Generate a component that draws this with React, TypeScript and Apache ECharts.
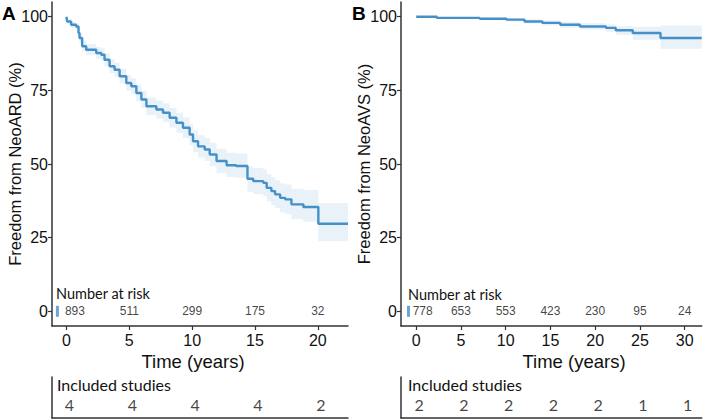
import React, { useEffect, useRef } from "react";
import * as echarts from "echarts";

// Panel A: freedom from NeoARD
const timesA = [0, 0.05, 0.37, 0.77, 0.96, 1.04, 1.25, 1.57, 2.37, 2.77, 3.03, 3.43, 3.83, 4.23, 4.76, 5.16, 5.56, 5.96, 6.36, 7.15, 7.68, 8.21, 8.75, 9.27, 9.8, 10.07, 10.47, 11.0, 11.4, 11.94, 12.74, 13.5, 14.4, 14.86, 15.66, 15.93, 16.3, 16.6, 17.0, 17.4, 17.9, 18.85, 20.04, 22.4];
const survA = [100, 98.4, 97.3, 96.7, 94.5, 92.8, 90, 88.8, 87.7, 87.1, 85.4, 83.2, 82, 79.8, 77.5, 76.4, 74.1, 71.9, 69.6, 68.5, 67.4, 65.7, 64, 62.3, 60, 57.7, 56, 54.9, 53.2, 51, 49.6, 49.3, 45, 44.2, 43.6, 41.9, 40.8, 39.7, 38.5, 38, 36.3, 35.4, 29.7, 29.7];
const lowA = [100, 97.6, 96.3, 95.5, 93.1, 91.2, 88.2, 86.9, 85.7, 85.0, 83.2, 80.9, 79.6, 77.3, 74.9, 73.7, 71.3, 69.0, 66.6, 65.4, 64.2, 62.4, 60.6, 58.8, 56.4, 54.0, 52.2, 51.0, 49.2, 46.9, 45.6, 45.3, 40.6, 39.8, 39.1, 37.3, 36.1, 35.0, 33.6, 33.0, 31.2, 30.4, 23.8, 23.8];
const highA = [100, 99.2, 98.3, 97.9, 95.9, 94.4, 91.8, 90.7, 89.7, 89.2, 87.6, 85.5, 84.4, 82.3, 80.1, 79.1, 76.9, 74.8, 72.6, 71.6, 70.6, 69.0, 67.4, 65.8, 63.6, 61.4, 59.8, 58.8, 57.2, 55.1, 53.8, 53.6, 49.2, 48.6, 48.1, 46.5, 45.5, 44.5, 43.4, 43.0, 41.6, 41.2, 36.8, 36.8];
const riskTimesA = [0, 5, 10, 15, 20];
const riskA = [893, 511, 299, 175, 32];
const studiesA = [4, 4, 4, 4, 2];

// Panel B: freedom from NeoAVS
const timesB = [0, 2.3, 7.1, 10.1, 12.1, 14.1, 16.1, 18.3, 21.2, 22.3, 24.2, 27.3, 31.9];
const survB = [100, 99.6, 99.3, 99.0, 98.4, 97.9, 97.3, 96.7, 96.2, 95.4, 94.5, 92.8, 92.8];
const lowB = [100, 99.3, 98.8, 98.4, 97.7, 97.0, 96.3, 95.7, 94.9, 93.9, 92.2, 89.1, 89.1];
const highB = [100, 99.9, 99.7, 99.5, 99.1, 98.7, 98.2, 97.8, 97.4, 96.8, 96.6, 97.0, 97.0];
const riskTimesB = [0, 5, 10, 15, 20, 25, 30];
const riskB = [778, 653, 553, 423, 230, 95, 24];
const studiesB = [2, 2, 2, 2, 2, 1, 1];

const yTicks = [0, 25, 50, 75, 100];
const xTicksA = [0, 5, 10, 15, 20];
const xTicksB = [0, 5, 10, 15, 20, 25, 30];

const LINE = "#4690c8";
const BAND = "#e9f1f9";
const AXIS = "#333333";
const SANS = "Liberation Sans";
const LATO = "Lato";

function bandSeries(t: number[], lo: number[], hi: number[], idx: number) {
  return {
    type: "custom",
    xAxisIndex: idx,
    yAxisIndex: idx,
    z: 1,
    silent: true,
    data: t.map((x, i) => [x, lo[i], hi[i]]),
    encode: { x: 0, y: [1, 2] },
    renderItem: (params: any, api: any) => {
      if (params.dataIndex !== 0) return null;
      const pts: number[][] = [];
      const n = t.length;
      for (let i = 0; i < n; i++) {
        const nx = i < n - 1 ? t[i + 1] : t[i];
        pts.push(api.coord([t[i], hi[i]]));
        pts.push(api.coord([nx, hi[i]]));
      }
      for (let i = n - 1; i >= 0; i--) {
        const nx = i < n - 1 ? t[i + 1] : t[i];
        pts.push(api.coord([nx, lo[i]]));
        pts.push(api.coord([t[i], lo[i]]));
      }
      return { type: "polygon", shape: { points: pts }, style: { fill: BAND } };
    },
  };
}

function mainX(idx: number, min: number, max: number, ticks: number[]) {
  return {
    gridIndex: idx,
    type: "value",
    min,
    max,
    axisLine: { show: true, onZero: false, lineStyle: { color: AXIS, width: 1.5 } },
    axisTick: { show: true, customValues: ticks, length: 4, lineStyle: { color: AXIS, width: 1.2 } },
    axisLabel: { show: true, customValues: ticks, color: "#111", fontSize: 16, fontFamily: SANS, margin: 6 },
    splitLine: { show: false },
  };
}

function mainY(idx: number) {
  return {
    gridIndex: idx,
    type: "value",
    min: -5,
    max: 105,
    axisLine: { show: true, onZero: false, lineStyle: { color: AXIS, width: 1.5 } },
    axisTick: { show: true, customValues: yTicks, length: 4, lineStyle: { color: AXIS, width: 1.2 } },
    axisLabel: { show: true, customValues: yTicks, color: "#111", fontSize: 16, fontFamily: SANS, margin: 4 },
    splitLine: { show: false },
  };
}

function tableX(idx: number, min: number, max: number) {
  return {
    gridIndex: idx,
    type: "value",
    min,
    max,
    axisLine: { show: true, onZero: false, lineStyle: { color: AXIS, width: 1.5 } },
    axisTick: { show: false },
    axisLabel: { show: false },
    splitLine: { show: false },
  };
}

function tableY(idx: number) {
  return {
    gridIndex: idx,
    type: "value",
    min: 0,
    max: 1,
    axisLine: { show: true, onZero: false, lineStyle: { color: AXIS, width: 1.5 } },
    axisTick: { show: false },
    axisLabel: { show: false },
    splitLine: { show: false },
  };
}

function riskSeries(times: number[], vals: number[], idx: number, firstOffset: number) {
  return {
    type: "scatter",
    xAxisIndex: idx,
    yAxisIndex: idx,
    symbolSize: 1,
    itemStyle: { color: "rgba(0,0,0,0)" },
    silent: true,
    z: 5,
    label: {
      show: true,
      position: "inside",
      formatter: (p: any) => String(p.value[2]),
      color: "#111",
      fontSize: 12,
      fontFamily: SANS,
    },
    data: times.map((t, i) => ({
      value: [t, 0, vals[i]],
      label: i === 0 ? { offset: [firstOffset, 0] } : undefined,
    })),
  };
}

function studySeries(times: number[], vals: number[], idx: number) {
  return {
    type: "scatter",
    xAxisIndex: idx,
    yAxisIndex: idx,
    symbolSize: 1,
    itemStyle: { color: "rgba(0,0,0,0)" },
    silent: true,
    label: {
      show: true,
      position: "inside",
      offset: [3, 0],
      formatter: (p: any) => String(p.value[2]),
      color: "#111",
      fontSize: 16,
      fontFamily: LATO,
    },
    data: times.map((t, i) => [t, 0.32, vals[i]]),
  };
}

function markerSeries(x: number, idx: number) {
  return {
    type: "scatter",
    xAxisIndex: idx,
    yAxisIndex: idx,
    symbol: "rect",
    symbolSize: [3, 11],
    itemStyle: { color: LINE },
    silent: true,
    data: [[x, 0]],
  };
}

export default function App() {
  const ref = useRef<HTMLDivElement>(null);
  useEffect(() => {
    if (!ref.current) return;
    const chart = echarts.init(ref.current, undefined, { renderer: "svg" });
    const option: any = {
      animation: false,
      backgroundColor: "#ffffff",
      textStyle: { fontFamily: SANS },
      grid: [
        { left: 52, top: 2, width: 296, height: 324 },
        { left: 401, top: 2, width: 300.7, height: 324 },
        { left: 52, top: 377, width: 296, height: 41 },
        { left: 401, top: 377, width: 300.7, height: 41 },
      ],
      xAxis: [
        mainX(0, -1.15, 22.4, xTicksA),
        mainX(1, -1.7, 31.9, xTicksB),
        tableX(2, -1.15, 22.4),
        tableX(3, -1.7, 31.9),
      ],
      yAxis: [mainY(0), mainY(1), tableY(2), tableY(3)],
      series: [
        bandSeries(timesA, lowA, highA, 0),
        {
          type: "line",
          xAxisIndex: 0,
          yAxisIndex: 0,
          step: "end",
          showSymbol: false,
          z: 3,
          lineStyle: { color: LINE, width: 2.4 },
          itemStyle: { color: LINE },
          data: timesA.map((t, i) => [t, survA[i]]),
        },
        bandSeries(timesB, lowB, highB, 1),
        {
          type: "line",
          xAxisIndex: 1,
          yAxisIndex: 1,
          step: "end",
          showSymbol: false,
          z: 3,
          lineStyle: { color: LINE, width: 2.4 },
          itemStyle: { color: LINE },
          data: timesB.map((t, i) => [t, survB[i]]),
        },
        riskSeries(riskTimesA, riskA, 0, 8.5),
        riskSeries(riskTimesB, riskB, 1, 6.5),
        markerSeries(-0.72, 0),
        markerSeries(-0.86, 1),
        studySeries(riskTimesA, studiesA, 2),
        studySeries(riskTimesB, studiesB, 3),
      ],
      graphic: [
        { type: "text", left: 2, top: 4, style: { text: "A", fontFamily: SANS, fontWeight: "bold", fontSize: 19, fill: "#000" } },
        { type: "text", left: 352, top: 4, style: { text: "B", fontFamily: SANS, fontWeight: "bold", fontSize: 19, fill: "#000" } },
        {
          type: "text", x: 15, y: 164, rotation: Math.PI / 2,
          style: { text: "Freedom from NeoARD (%)", fontFamily: SANS, fontSize: 16.5, fill: "#111", align: "center", verticalAlign: "middle" },
        },
        {
          type: "text", x: 364, y: 164, rotation: Math.PI / 2,
          style: { text: "Freedom from NeoAVS (%)", fontFamily: SANS, fontSize: 16.5, fill: "#111", align: "center", verticalAlign: "middle" },
        },
        { type: "text", x: 193, y: 361, style: { text: "Time (years)", fontFamily: SANS, fontSize: 18.5, fill: "#111", align: "center", verticalAlign: "middle" } },
        { type: "text", x: 574, y: 361, style: { text: "Time (years)", fontFamily: SANS, fontSize: 18.5, fill: "#111", align: "center", verticalAlign: "middle" } },
        { type: "text", x: 56, y: 293, style: { text: "Number at risk", fontFamily: LATO, fontSize: 14.5, fill: "#111", align: "left", verticalAlign: "middle" } },
        { type: "text", x: 408, y: 294, style: { text: "Number at risk", fontFamily: LATO, fontSize: 14.5, fill: "#111", align: "left", verticalAlign: "middle" } },
        { type: "text", x: 57, y: 384, style: { text: "Included studies", fontFamily: LATO, fontSize: 16, fill: "#111", align: "left", verticalAlign: "middle" } },
        { type: "text", x: 408, y: 384, style: { text: "Included studies", fontFamily: LATO, fontSize: 16, fill: "#111", align: "left", verticalAlign: "middle" } },
      ],
    };
    chart.setOption(option);
    return () => chart.dispose();
  }, []);
  return (
    <div
      ref={ref}
      style={{ position: "fixed", left: 0, top: 0, width: 707, height: 420, background: "#fff" }}
    />
  );
}
